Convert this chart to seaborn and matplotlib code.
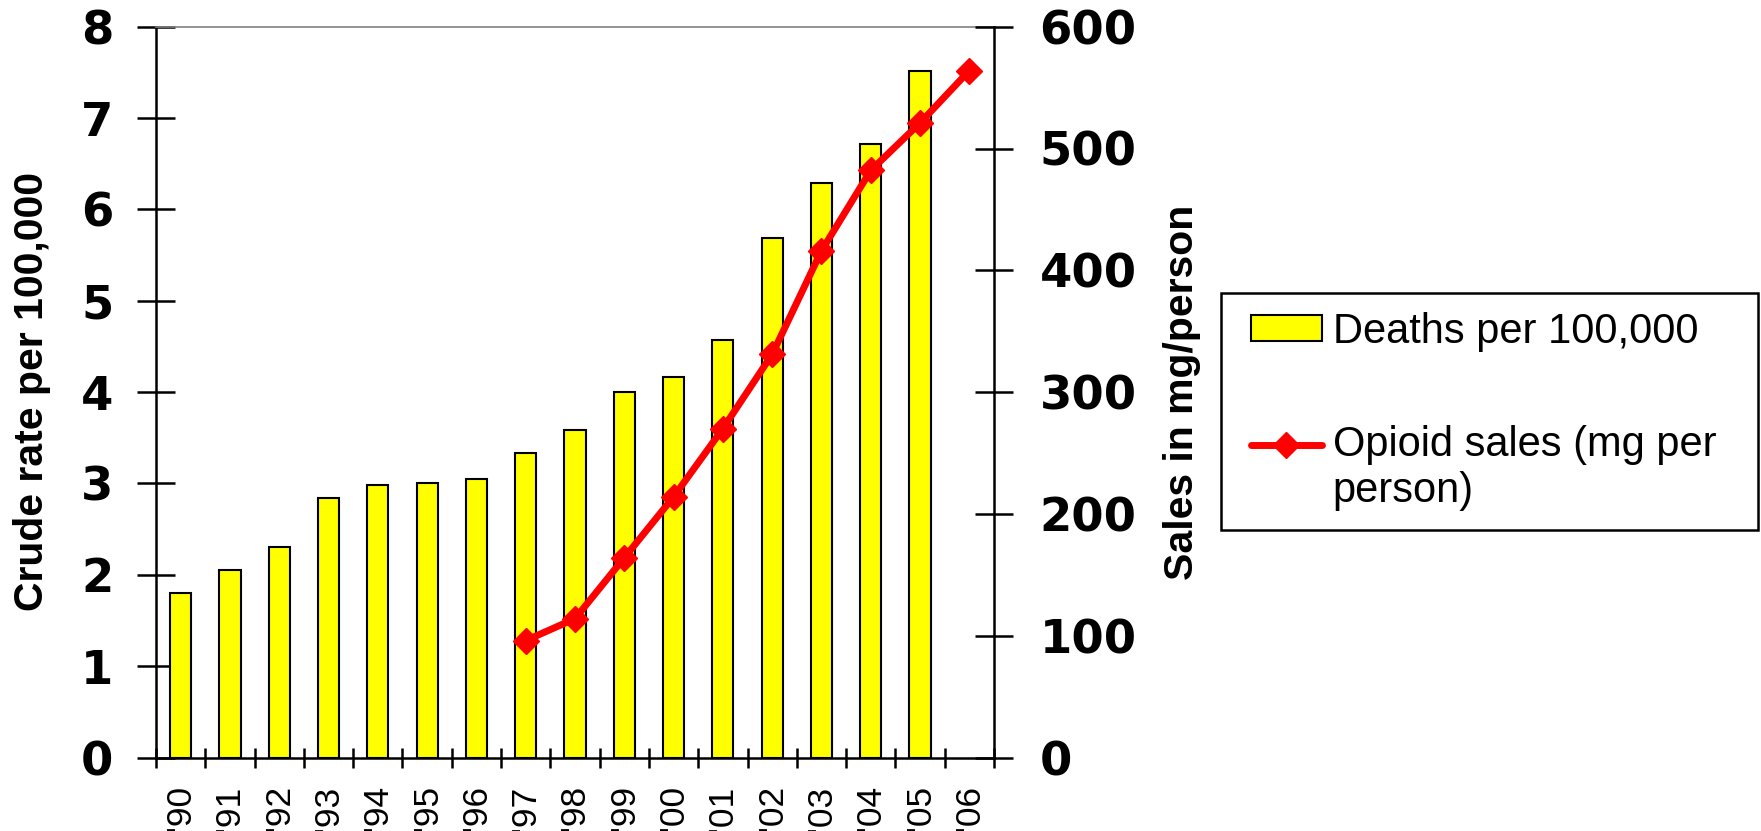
import numpy as np
import pandas as pd
import matplotlib
matplotlib.use("Agg")
import matplotlib.pyplot as plt
import seaborn as sns
from matplotlib.legend_handler import HandlerLine2D, HandlerPatch

# Year labels, death rate per 100,000 and opioid sales (mg per person)
years = ["'90", "'91", "'92", "'93", "'94", "'95", "'96", "'97", "'98",
         "'99", "'00", "'01", "'02", "'03", "'04", "'05", "'06"]
deaths_per_100k = [1.80, 2.05, 2.30, 2.84, 2.98, 3.00, 3.05, 3.33, 3.59,
                   4.00, 4.16, 4.57, 5.69, 6.29, 6.72, 7.52, np.nan]
opioid_sales_mg = [np.nan] * 7 + [96, 114, 164, 214, 270, 331, 416, 482, 521, 564]
rate_ticks = [0, 1, 2, 3, 4, 5, 6, 7, 8]
sales_ticks = [0, 100, 200, 300, 400, 500, 600]

df = pd.DataFrame({
    "year": years,
    "pos": np.arange(len(years)),
    "deaths": deaths_per_100k,
    "sales": opioid_sales_mg,
})


class LiftedLineHandler(HandlerLine2D):
    """Line handle raised so it sits beside the first line of a wrapped label."""

    def __init__(self, lift=0.0, **kw):
        super().__init__(**kw)
        self.lift = lift

    def create_artists(self, legend, orig_handle, xdescent, ydescent,
                       width, height, fontsize, trans):
        artists = super().create_artists(legend, orig_handle, xdescent, ydescent,
                                         width, height, fontsize, trans)
        for a in artists:
            a.set_ydata(np.asarray(a.get_ydata(), float) + self.lift * fontsize)
        return artists


sns.set_theme(style="white")
plt.rcParams["font.family"] = ["Liberation Sans", "DejaVu Sans"]
plt.rcParams["text.color"] = "black"
plt.rcParams["axes.labelcolor"] = "black"
plt.rcParams["xtick.color"] = "black"
plt.rcParams["ytick.color"] = "black"

W, H = 1761, 831
fig = plt.figure(figsize=(W / 100, H / 100), dpi=100)
fig.patch.set_facecolor("white")

ax = fig.add_axes([156 / W, 1 - 757.5 / H, 838 / W, 730.8 / H])

sns.barplot(data=df.dropna(subset=["deaths"]), x="year", y="deaths", order=years,
            color="#FFFF00", saturation=1, width=0.43, edgecolor="black",
            linewidth=1.5, errorbar=None, ax=ax)

ax2 = ax.twinx()
sns.lineplot(data=df.dropna(subset=["sales"]), x="pos", y="sales", color="#FF0000",
             linewidth=5, marker="D", markersize=13.5, markeredgecolor="#FF0000",
             markeredgewidth=1, errorbar=None, ax=ax2)

for a in (ax, ax2):
    a.set_xlim(-0.5, len(years) - 0.5)
    a.set_xlabel("")
ax.set_ylim(0, 8)
ax2.set_ylim(0, 600)

# x axis: labels at category centres, tick marks at category boundaries
ax.set_xticks(np.arange(len(years)))
ax.set_xticklabels(years, rotation=90, fontsize=25.5, family="Liberation Sans",
                   color="black")
ax.set_xticks(np.arange(-0.5, len(years), 1), minor=True)
ax.tick_params(axis="x", which="major", length=0, pad=20, bottom=True)
ax.tick_params(axis="x", which="minor", direction="inout", length=15, width=1.8,
               color="black", bottom=True)

# left axis
ax.set_yticks(rate_ticks)
ax.tick_params(axis="y", direction="inout", length=27.4, width=1.8, color="black",
               labelcolor="black", pad=17, labelsize=33.5, left=True)
for lab in ax.get_yticklabels():
    lab.set_fontfamily("DejaVu Sans")
    lab.set_fontweight("bold")

# right axis
ax2.set_yticks(sales_ticks)
ax2.tick_params(axis="y", direction="inout", length=27.4, width=1.8, color="black",
                labelcolor="black", pad=19, labelsize=33.5, right=True)
for lab in ax2.get_yticklabels():
    lab.set_fontfamily("DejaVu Sans")
    lab.set_fontweight("bold")

for name in ("left", "bottom"):
    ax.spines[name].set_color("black")
    ax.spines[name].set_linewidth(1.8)
ax.spines["top"].set_color("#808080")
ax.spines["top"].set_linewidth(1.2)
ax.spines["right"].set_visible(False)
for name in ("top", "left", "bottom"):
    ax2.spines[name].set_visible(False)
ax2.spines["right"].set_color("black")
ax2.spines["right"].set_linewidth(1.8)
ax.grid(False)
ax2.grid(False)

ax.set_ylabel("Crude rate per 100,000", fontsize=29.5, fontweight="bold",
              family="Liberation Sans", color="black")
ax.yaxis.set_label_coords(-0.125, 0.501)
ax2.set_ylabel("Sales in mg/person", fontsize=29.5, fontweight="bold",
               family="Liberation Sans", color="black")
ax2.yaxis.set_label_coords(1.2014, 0.5)

bar_handle = ax.patches[0]
line_handle = ax2.lines[0]
leg = fig.legend(
    [bar_handle, line_handle],
    ["Deaths per 100,000", "Opioid sales (mg per\nperson)"],
    loc="upper left",
    bbox_to_anchor=(1221 / W, 1 - 293 / H, (1758 - 1221) / W, 0),
    bbox_transform=fig.transFigure,
    mode="expand", borderaxespad=0, borderpad=0.45, labelspacing=1.76,
    handlelength=1.97, handleheight=0.58, handletextpad=0.26,
    fancybox=False, framealpha=1, edgecolor="black",
    prop={"family": "Liberation Sans", "size": 30},
    handler_map={bar_handle: HandlerPatch(xpad=0.27),
                 line_handle: LiftedLineHandler(lift=0.6, xpad=0.27)},
)
leg.get_frame().set_linewidth(1.8)
for t in leg.get_texts():
    t.set_color("black")

fig.savefig("out.png", dpi=100)
